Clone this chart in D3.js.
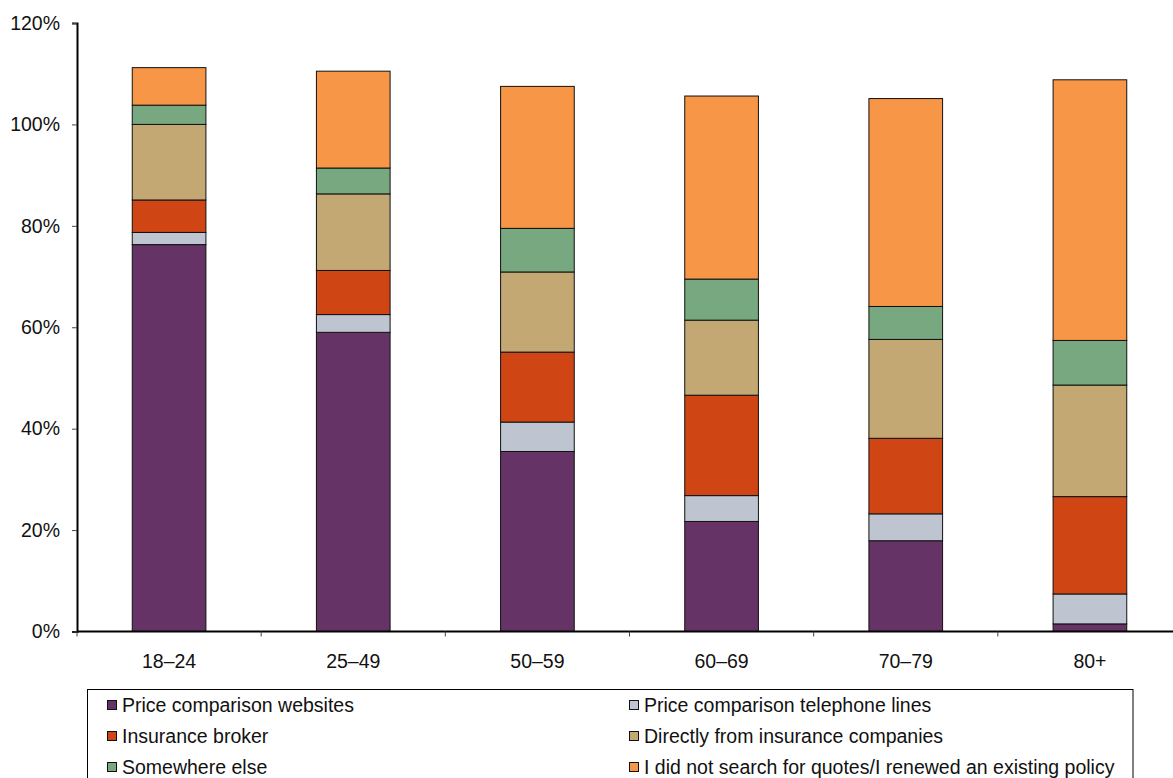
<!DOCTYPE html>
<html>
<head>
<meta charset="utf-8">
<script src="https://cdn.jsdelivr.net/npm/d3@7/dist/d3.min.js"></script>
<style>
  html, body { margin: 0; padding: 0; background: #fff; }
  svg { display: block; font-family: "Liberation Sans", Arial, sans-serif; }
</style>
</head>
<body>
<svg id="chart" width="1173" height="778"></svg>
<script>
// Age groups along the x axis
const categories = ["18–24", "25–49", "50–59", "60–69", "70–79", "80+"];

// Series, bottom to top of each stack (percent of respondents)
const seriesNames = [
  "Price comparison websites",
  "Price comparison telephone lines",
  "Insurance broker",
  "Directly from insurance companies",
  "Somewhere else",
  "I did not search for quotes/I renewed an existing policy"
];
const priceWebsites   = [76.3, 59.0, 35.5, 21.7, 17.9,  1.5];
const priceTelephone  = [ 2.4,  3.5,  5.8,  5.1,  5.3,  5.9];
const insuranceBroker = [ 6.4,  8.7, 13.8, 19.8, 14.9, 19.2];
const directInsurers  = [14.9, 15.1, 15.8, 14.8, 19.5, 22.0];
const somewhereElse   = [ 3.8,  5.1,  8.6,  8.1,  6.5,  8.8];
const didNotSearch    = [ 7.4, 19.1, 28.0, 36.1, 41.0, 51.4];

const yTicks = [0, 20, 40, 60, 80, 100, 120];
const colors = ["#663366", "#bfc5d0", "#d04514", "#c4a874", "#77a880", "#f79646"];

const seriesValues = [priceWebsites, priceTelephone, insuranceBroker, directInsurers, somewhereElse, didNotSearch];
const rows = categories.map((c, i) => {
  const r = { cat: c };
  seriesNames.forEach((s, k) => { r[s] = seriesValues[k][i]; });
  return r;
});

const svg = d3.select("#chart");
const plotLeft = 77, plotTop = 23, plotBottom = 631.5, plotRight = 1182;
const fontSize = 19.5;

const x = d3.scaleBand().domain(categories).range([plotLeft, plotRight]).padding(0);
const y = d3.scaleLinear().domain([0, 120]).range([plotBottom, plotTop]);

const stacked = d3.stack().keys(seriesNames)(rows);

const barFrac = 0.4;
svg.append("g").selectAll("g.series")
  .data(stacked)
  .join("g")
  .attr("class", "series")
  .attr("fill", (d, i) => colors[i])
  .selectAll("rect")
  .data(d => d)
  .join("rect")
  .attr("x", d => x(d.data.cat) + x.bandwidth() * (1 - barFrac) / 2)
  .attr("width", x.bandwidth() * barFrac)
  .attr("y", d => y(d[1]))
  .attr("height", d => y(d[0]) - y(d[1]))
  .attr("stroke", "#111")
  .attr("stroke-width", 1);

// Y axis
const yAxis = d3.axisLeft(y)
  .tickValues(yTicks)
  .tickFormat(d => d + "%")
  .tickSize(5)
  .tickPadding(12);
const yg = svg.append("g").attr("transform", `translate(${plotLeft},0)`).call(yAxis);
yg.select(".domain").attr("stroke", "#000").attr("stroke-width", 2);
yg.selectAll(".tick line").attr("stroke", "#444").attr("stroke-width", 1);
yg.selectAll(".tick text")
  .attr("font-size", fontSize)
  .attr("fill", "#111")
  .attr("font-family", "Liberation Sans, Arial, sans-serif");

// X axis line with ticks at the category boundaries
svg.append("line")
  .attr("x1", plotLeft).attr("x2", 1173)
  .attr("y1", plotBottom).attr("y2", plotBottom)
  .attr("stroke", "#000").attr("stroke-width", 2);

svg.append("g").selectAll("line")
  .data(categories.map(c => x(c)))
  .join("line")
  .attr("x1", d => d).attr("x2", d => d)
  .attr("y1", plotBottom).attr("y2", plotBottom + 5)
  .attr("stroke", "#444").attr("stroke-width", 1);

svg.append("g").selectAll("text")
  .data(categories)
  .join("text")
  .attr("x", d => x(d) + x.bandwidth() / 2)
  .attr("y", 668)
  .attr("text-anchor", "middle")
  .attr("font-size", fontSize)
  .attr("fill", "#111")
  .text(d => d);

// Legend
const legend = svg.append("g");
legend.append("rect")
  .attr("x", 87.5).attr("y", 689.5)
  .attr("width", 1045.5).attr("height", 120)
  .attr("fill", "#fff").attr("stroke", "#000").attr("stroke-width", 1);

const colX = [107, 629];
const rowY = [705, 736, 767];
seriesNames.forEach((name, i) => {
  const cx = colX[i % 2];
  const cy = rowY[Math.floor(i / 2)];
  legend.append("rect")
    .attr("x", cx + 0.5).attr("y", cy - 4.5)
    .attr("width", 9).attr("height", 9)
    .attr("fill", colors[i])
    .attr("stroke", "#111").attr("stroke-width", 1);
  legend.append("text")
    .attr("x", cx + 15).attr("y", cy + 7)
    .attr("font-size", fontSize)
    .attr("fill", "#111")
    .text(name);
});
</script>
</body>
</html>
